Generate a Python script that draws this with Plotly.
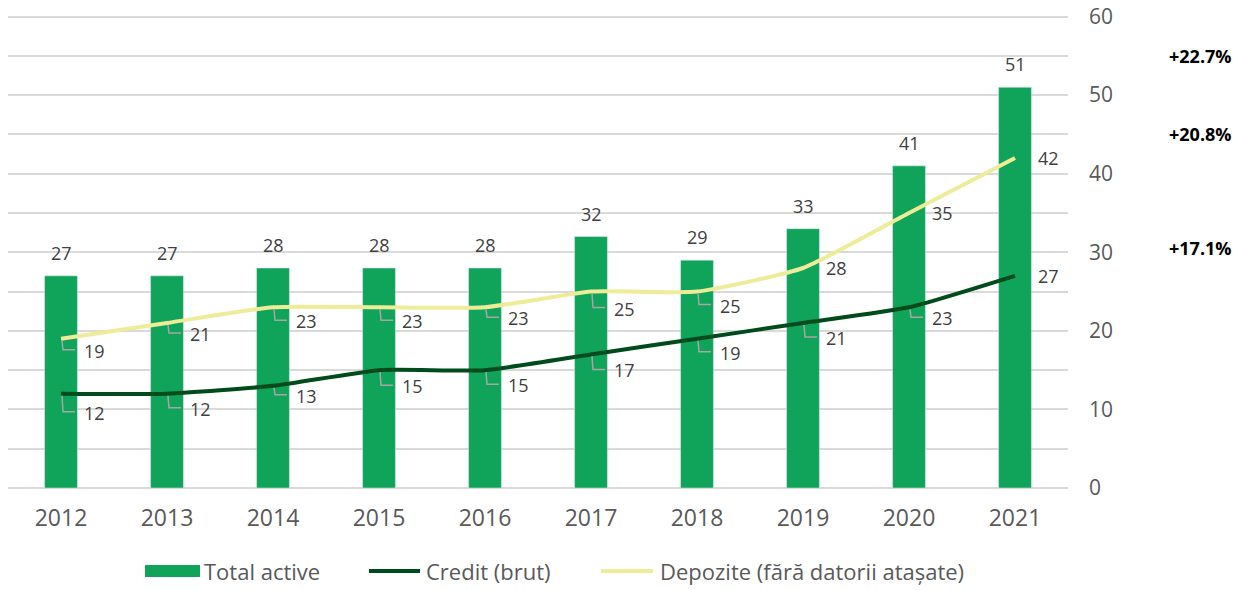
import plotly.graph_objects as go

years = ["2012", "2013", "2014", "2015", "2016", "2017", "2018", "2019", "2020", "2021"]
total_active = [27, 27, 28, 28, 28, 32, 29, 33, 41, 51]
credit = [12, 12, 13, 15, 15, 17, 19, 21, 23, 27]
deposits = [19, 21, 23, 23, 23, 25, 25, 28, 35, 42]
series_names = ["Total active", "Credit (brut)", "Depozite (fără datorii atașate)"]
growth_labels = ["+22.7%", "+20.8%", "+17.1%"]
growth_y = [55, 45, 30.5]

# label placement (pixels below the point); 0 = label sits right of the point
dep_label_dy = [12, 11, 14, 14, 11, 17, 14, 0, 0, 0]
cred_label_dy = [19, 15, 10, 16, 15, 16, 14, 15, 11, 0]

GREEN = "#10a35a"
DARK = "#004b1c"
YELLOW = "#eeec98"
GRID = "#d9d9d9"
TXT = "#595959"
FONT = "Open Sans"

# plot area in page pixels (body margin is removed below)
L, R, T, B = 8, 1068, 15, 488
W, H = 1253, 590


def px(xp):
    return (xp - L) / (R - L)


def py(yp):
    return (B - yp) / (B - T)


x = list(range(len(years)))

fig = go.Figure()
fig.add_trace(go.Bar(x=x, y=total_active, name=series_names[0],
                     marker_color=GREEN, width=0.31))
fig.add_trace(go.Scatter(x=x, y=credit, name=series_names[1], mode="lines",
                         line=dict(color=DARK, width=4, shape="spline", smoothing=0.5)))
fig.add_trace(go.Scatter(x=x, y=deposits, name=series_names[2], mode="lines",
                         line=dict(color=YELLOW, width=4, shape="spline", smoothing=0.5)))

# bar value labels
for i, v in enumerate(total_active):
    fig.add_annotation(x=i, y=v, text=str(v), showarrow=False, yshift=23,
                       font=dict(family=FONT, size=18, color="#404040"))


def add_line_labels(values, dys):
    for i, (v, dy) in enumerate(zip(values, dys)):
        fig.add_annotation(x=i, y=v, text=str(v), showarrow=False,
                           xanchor="left", xshift=21, yshift=-dy,
                           font=dict(family=FONT, size=18, color="#404040"))
        if dy > 5:
            fig.add_shape(type="path", xref="x", yref="y",
                          xsizemode="pixel", ysizemode="pixel",
                          xanchor=i, yanchor=v,
                          path=f"M 1,-2 L 2,-{dy - 1} L 14,-{dy - 1}",
                          line=dict(color="#a6a6a6", width=1.5))


add_line_labels(deposits, dep_label_dy)
add_line_labels(credit, cred_label_dy)

for txt, gy in zip(growth_labels, growth_y):
    fig.add_annotation(x=px(1200), xref="paper", y=gy, yref="y", text=f"<b>{txt}</b>",
                       showarrow=False, xanchor="center",
                       font=dict(family=FONT, size=18, color="#000000"))

# legend drawn by hand so the swatches match the original width
leg_y = py(571)
fig.add_shape(type="rect", xref="paper", yref="paper", x0=px(145), x1=px(200),
              y0=py(577), y1=py(565), fillcolor=GREEN, line_width=0)
fig.add_shape(type="line", xref="paper", yref="paper", x0=px(369), x1=px(420),
              y0=leg_y, y1=leg_y, line=dict(color=DARK, width=4))
fig.add_shape(type="line", xref="paper", yref="paper", x0=px(601), x1=px(653),
              y0=leg_y, y1=leg_y, line=dict(color=YELLOW, width=4))
for name, lx in zip(series_names, [202, 424, 658]):
    fig.add_annotation(x=px(lx), xref="paper", y=leg_y, yref="paper", text=name,
                       showarrow=False, xanchor="left", yanchor="middle",
                       font=dict(family=FONT, size=22, color=TXT))

fig.update_layout(
    width=W, height=H,
    margin=dict(l=L, r=W - R, t=T, b=H - B, autoexpand=False),
    plot_bgcolor="white", paper_bgcolor="white",
    font=dict(family=FONT, color=TXT),
    showlegend=False,
)
fig.update_xaxes(range=[-0.5, 9.5], tickvals=x, ticktext=years, showgrid=False,
                 zeroline=False, showline=False, ticks="",
                 tickfont=dict(family=FONT, size=23, color=TXT), ticklabelstandoff=14)
fig.update_yaxes(side="right", range=[0, 60.2], tickvals=[0, 10, 20, 30, 40, 50, 60],
                 showgrid=True, gridcolor=GRID,
                 gridwidth=2, zeroline=True, zerolinecolor=GRID, zerolinewidth=2,
                 minor=dict(tickvals=[5, 15, 25, 35, 45, 55], showgrid=True,
                            gridcolor=GRID, gridwidth=2),
                 ticklabeloverflow="allow",
                 tickfont=dict(family=FONT, size=21, color=TXT), ticklabelstandoff=20)

fig.write_html("out.html", config={"displayModeBar": False},
               post_script="document.body.style.margin = '0';")
